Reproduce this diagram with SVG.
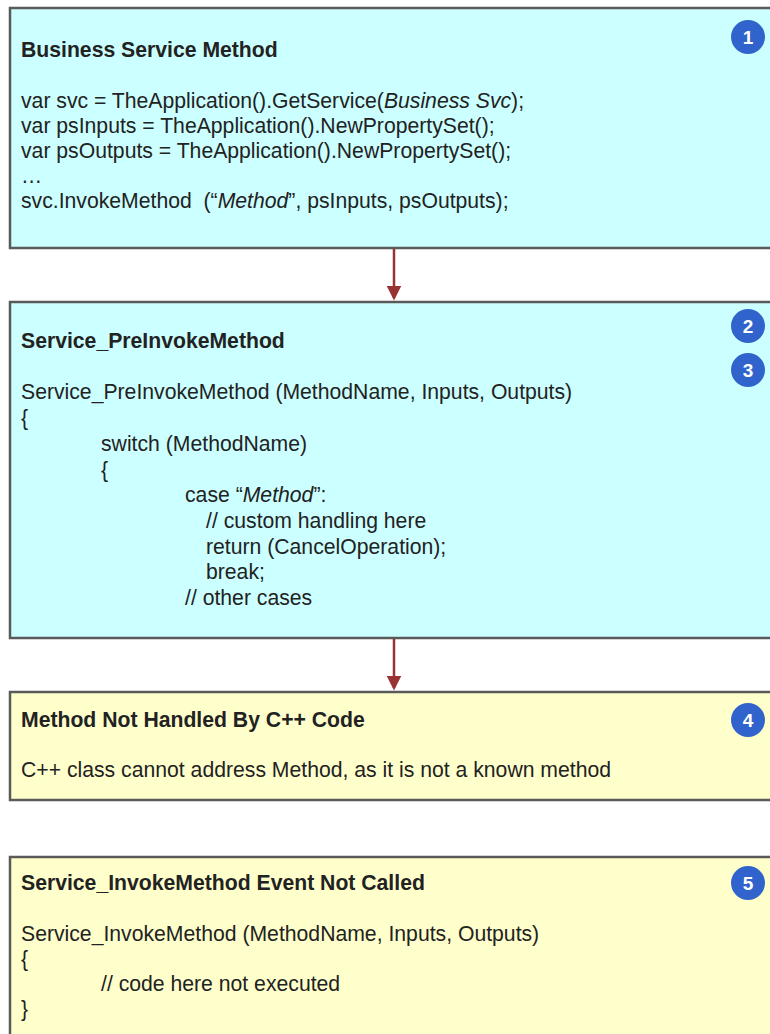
<svg xmlns="http://www.w3.org/2000/svg" width="770" height="1034" viewBox="0 0 770 1034">
<defs>
<style>
.box{stroke:#5a5a5a;stroke-width:2.5}
.cyan{fill:#ccffff}
.yel{fill:#ffffcc}
text{font-family:"Liberation Sans",Arial,sans-serif;font-size:21.2px;fill:#222}
.t{font-weight:bold}
.i{font-style:italic}
.badge circle{fill:#3063cc}
.badge text{fill:#fff;font-weight:bold;font-size:19px;text-anchor:middle}
.conn{stroke:#993333;stroke-width:2.5;fill:none}
</style>
<marker id="ah" markerWidth="6" markerHeight="6" refX="5" refY="3" orient="auto" markerUnits="strokeWidth">
<path d="M0,0 L6,3 L0,6 Z" fill="#993333"/>
</marker>
</defs>
<rect width="770" height="1034" fill="#fff"/>

<g id="node1">
<rect class="box cyan" x="10" y="8" width="770" height="240"/>
<text class="t" x="21" y="57">Business Service Method</text>
<text x="21" y="108">var svc = TheApplication().GetService(<tspan class="i">Business Svc</tspan>);</text>
<text x="21" y="133">var psInputs = TheApplication().NewPropertySet();</text>
<text x="21" y="158">var psOutputs = TheApplication().NewPropertySet();</text>
<text x="21" y="183">…</text>
<text x="21" y="208" xml:space="preserve">svc.InvokeMethod  (“<tspan class="i">Method</tspan>”, psInputs, psOutputs);</text>
<g class="badge"><circle cx="748" cy="37" r="17"/><text x="748" y="44">1</text></g>
</g>

<g id="node2">
<rect class="box cyan" x="10" y="302" width="770" height="336"/>
<text class="t" x="21" y="348">Service_PreInvokeMethod</text>
<text x="21" y="399">Service_PreInvokeMethod (MethodName, Inputs, Outputs)</text>
<text x="21" y="425">{</text>
<text x="101" y="451">switch (MethodName)</text>
<text x="101" y="477">{</text>
<text x="185" y="502">case “<tspan class="i">Method</tspan>”:</text>
<text x="206" y="528">// custom handling here</text>
<text x="206" y="554">return (CancelOperation);</text>
<text x="206" y="579">break;</text>
<text x="185" y="605">// other cases</text>
<g class="badge"><circle cx="748" cy="326" r="17"/><text x="748" y="333">2</text></g>
<g class="badge"><circle cx="748" cy="370" r="17"/><text x="748" y="377">3</text></g>
</g>

<g id="node4">
<rect class="box yel" x="10" y="692" width="770" height="108"/>
<text class="t" x="21" y="727">Method Not Handled By C++ Code</text>
<text x="21" y="777">C++ class cannot address Method, as it is not a known method</text>
<g class="badge"><circle cx="748" cy="720" r="17"/><text x="748" y="727">4</text></g>
</g>

<g id="node5">
<rect class="box yel" x="10" y="857" width="770" height="200"/>
<text class="t" x="21" y="890">Service_InvokeMethod Event Not Called</text>
<text x="21" y="941">Service_InvokeMethod (MethodName, Inputs, Outputs)</text>
<text x="21" y="966">{</text>
<text x="101" y="991">// code here not executed</text>
<text x="21" y="1016">}</text>
<g class="badge"><circle cx="748" cy="883" r="17"/><text x="748" y="890">5</text></g>
</g>

<g id="connectors">
<line class="conn" x1="394" y1="249" x2="394" y2="298" marker-end="url(#ah)"/>
<line class="conn" x1="394" y1="639" x2="394" y2="688" marker-end="url(#ah)"/>
</g>
</svg>
